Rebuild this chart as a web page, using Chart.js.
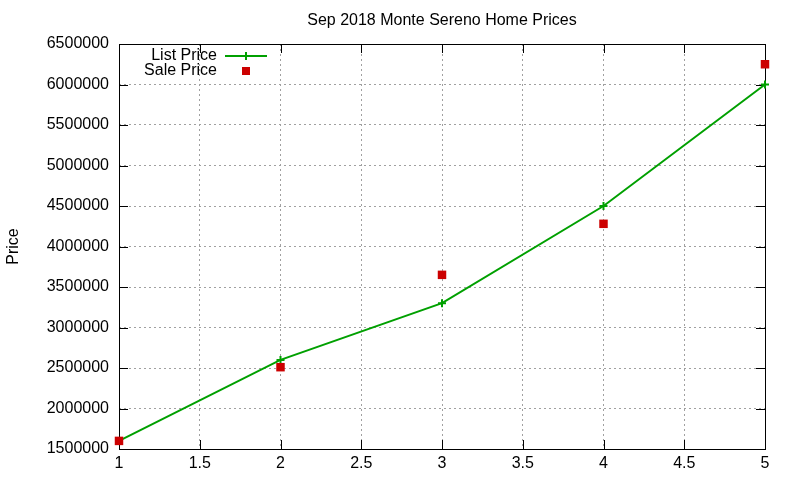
<!DOCTYPE html>
<html>
<head>
<meta charset="utf-8">
<script src="https://cdn.jsdelivr.net/npm/chart.js@4"></script>
<style>
  html, body { margin: 0; padding: 0; background: #fff; }
  #wrap { width: 800px; height: 480px; }
</style>
</head>
<body>
<div id="wrap"><canvas id="priceChart" width="800" height="480"></canvas></div>
<script>
// data
var months = [1, 2, 3, 4, 5];
var listPrice = [1600000, 2600000, 3300000, 4500000, 6000000];
var salePrice = [1600000, 2510000, 3650000, 4280000, 6250000];
var chartTitle = 'Sep 2018 Monte Sereno Home Prices';
var seriesNames = ['List Price', 'Sale Price'];

var FONT = '"Liberation Sans", Arial, sans-serif';

function pairs(xs, ys) {
    return xs.map(function (x, i) { return { x: x, y: ys[i] }; });
}

// gnuplot-like frame, inward ticks, title and key
var gnuFrame = {
    id: 'gnuFrame',
    beforeDatasetsDraw: function (chart) {
        var ctx = chart.ctx, a = chart.chartArea;
        var xs = chart.scales.x, ys = chart.scales.y;
        ctx.save();
        ctx.strokeStyle = '#000';
        ctx.lineWidth = 1;
        ctx.beginPath();
        xs.ticks.forEach(function (t) {
            var px = Math.round(xs.getPixelForValue(t.value)) + 0.5;
            ctx.moveTo(px, a.bottom); ctx.lineTo(px, a.bottom - 9);
            ctx.moveTo(px, a.top); ctx.lineTo(px, a.top + 9);
        });
        ys.ticks.forEach(function (t) {
            var py = Math.round(ys.getPixelForValue(t.value)) + 0.5;
            ctx.moveTo(a.left, py); ctx.lineTo(a.left + 9, py);
            ctx.moveTo(a.right, py); ctx.lineTo(a.right - 9, py);
        });
        ctx.stroke();
        ctx.strokeRect(Math.round(a.left) + 0.5, Math.round(a.top) + 0.5,
            Math.round(a.right - a.left), Math.round(a.bottom - a.top));
        ctx.restore();
    },
    afterDraw: function (chart) {
        var ctx = chart.ctx, a = chart.chartArea;
        ctx.save();
        ctx.fillStyle = '#000';
        ctx.font = '16px ' + FONT;
        ctx.textBaseline = 'middle';
        ctx.textAlign = 'center';
        ctx.fillText(chartTitle, (a.left + a.right) / 2, 21);

        // key
        ctx.textAlign = 'right';
        ctx.fillText(seriesNames[0], 217, 56);
        ctx.fillText(seriesNames[1], 217, 71);
        ctx.strokeStyle = '#00a000';
        ctx.lineWidth = 2;
        ctx.beginPath();
        ctx.moveTo(225, 56); ctx.lineTo(267, 56);
        ctx.moveTo(246, 52); ctx.lineTo(246, 60);
        ctx.stroke();
        ctx.fillStyle = '#cc0000';
        ctx.fillRect(242, 67, 8, 8);
        ctx.restore();
    }
};

document.addEventListener('DOMContentLoaded', function () {
    var ctx = document.getElementById('priceChart').getContext('2d');

    var priceChart = new Chart(ctx, {
        type: 'scatter',
        data: {
            datasets: [{
                label: seriesNames[0],
                data: pairs(months, listPrice),
                showLine: true,
                clip: false,
                borderColor: '#00a000',
                backgroundColor: '#00a000',
                borderWidth: 2,
                pointStyle: 'cross',
                pointRadius: 4,
                pointBorderWidth: 2,
                order: 2
            }, {
                label: seriesNames[1],
                data: pairs(months, salePrice),
                showLine: false,
                clip: false,
                borderColor: '#cc0000',
                backgroundColor: '#cc0000',
                pointStyle: 'rect',
                pointRadius: 6,
                pointBorderWidth: 0,
                order: 1
            }]
        },
        options: {
            responsive: false,
            animation: false,
            devicePixelRatio: 1,
            layout: { padding: { left: 0, right: 35, top: 44, bottom: 0 } },
            plugins: {
                legend: { display: false },
                title: { display: false },
                tooltip: { enabled: false }
            },
            scales: {
                x: {
                    type: 'linear',
                    min: 1,
                    max: 5,
                    ticks: {
                        stepSize: 0.5,
                        autoSkip: false,
                        color: '#000',
                        padding: 5,
                        maxRotation: 0,
                        font: { family: FONT, size: 16 },
                        callback: function (v) { return String(v); }
                    },
                    grid: {
                        color: '#a0a0a0',
                        lineWidth: 1,
                        drawTicks: false
                    },
                    border: { display: false, dash: [2, 3] },
                    afterFit: function (scale) { scale.height = 31; }
                },
                y: {
                    min: 1500000,
                    max: 6500000,
                    ticks: {
                        stepSize: 500000,
                        autoSkip: false,
                        color: '#000',
                        padding: 10,
                        font: { family: FONT, size: 16 },
                        callback: function (v) { return String(v); }
                    },
                    grid: {
                        color: '#a0a0a0',
                        lineWidth: 1,
                        drawTicks: false
                    },
                    border: { display: false, dash: [2, 3] },
                    title: {
                        display: true,
                        text: 'Price',
                        color: '#000',
                        padding: 4,
                        font: { family: FONT, size: 16 }
                    },
                    afterFit: function (scale) { scale.width = 119; }
                }
            }
        },
        plugins: [gnuFrame]
    });
});
</script>
</body>
</html>
